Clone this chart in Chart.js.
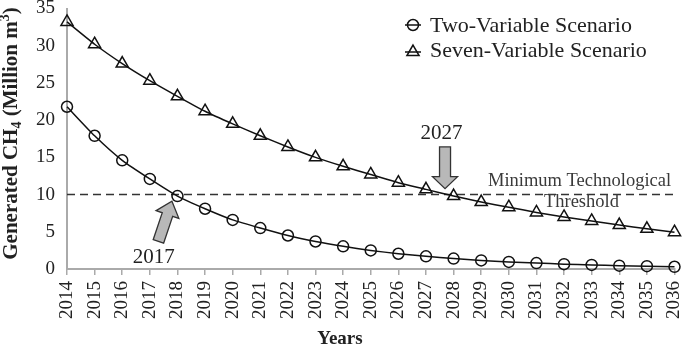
<!DOCTYPE html>
<html>
<head>
<meta charset="utf-8">
<script src="https://cdn.jsdelivr.net/npm/chart.js@4.4.0/dist/chart.umd.min.js"></script>
<style>
html,body{margin:0;padding:0;background:#fff;}
#wrap{width:683px;height:351px;position:relative;}
</style>
</head>
<body>
<div id="wrap"><canvas id="c" width="683" height="351"></canvas></div>
<script>
// ---- data ----
const years = ['2014','2015','2016','2017','2018','2019','2020','2021','2022','2023','2024','2025','2026','2027','2028','2029','2030','2031','2032','2033','2034','2035','2036'];
const twoVariable = [21.8,17.9,14.6,12.1,9.8,8.1,6.6,5.5,4.5,3.7,3.05,2.5,2.05,1.7,1.4,1.15,0.95,0.8,0.65,0.55,0.45,0.38,0.3];
const sevenVariable = [33.2,30.2,27.6,25.3,23.2,21.2,19.5,17.9,16.4,15.0,13.8,12.7,11.6,10.7,9.8,9.0,8.3,7.6,7.0,6.45,5.9,5.4,4.95];
const thresholdValue = 10;
const threshold = years.map(() => thresholdValue);
const yTicks = [0,5,10,15,20,25,30,35];
const seriesNames = ['Two-Variable Scenario','Seven-Variable Scenario'];
const thresholdLabel = ['Minimum Technological','Threshold'];
const crossingLabels = ['2017','2027'];

const SERIF = "'Liberation Serif','Times New Roman',serif";

function drawArrow(ctx, tx, ty, bx, by, shaftW, headW, headL) {
  const dx = tx - bx, dy = ty - by;
  const len = Math.hypot(dx, dy);
  const ux = dx / len, uy = dy / len;
  const px = -uy, py = ux;
  const hx = tx - ux * headL, hy = ty - uy * headL;
  const pts = [
    [bx + px * shaftW / 2, by + py * shaftW / 2],
    [hx + px * shaftW / 2, hy + py * shaftW / 2],
    [hx + px * headW / 2, hy + py * headW / 2],
    [tx, ty],
    [hx - px * headW / 2, hy - py * headW / 2],
    [hx - px * shaftW / 2, hy - py * shaftW / 2],
    [bx - px * shaftW / 2, by - py * shaftW / 2]
  ];
  ctx.beginPath();
  ctx.moveTo(pts[0][0], pts[0][1]);
  for (let i = 1; i < pts.length; i++) ctx.lineTo(pts[i][0], pts[i][1]);
  ctx.closePath();
  ctx.fillStyle = '#b8b8b8';
  ctx.fill();
  ctx.lineWidth = 1.3;
  ctx.strokeStyle = '#333';
  ctx.stroke();
}

const extras = {
  id: 'extras',
  afterDatasetsDraw(chart) {
    const ctx = chart.ctx;
    const xs = chart.scales.x, ys = chart.scales.y;
    ctx.save();
    // arrows
    drawArrow(ctx, xs.getPixelForValue(3.8), ys.getPixelForValue(9.1),
                   xs.getPixelForValue(3.31), ys.getPixelForValue(3.7), 11, 24, 14);
    drawArrow(ctx, xs.getPixelForValue(13.69), ys.getPixelForValue(10.8),
                   xs.getPixelForValue(13.69), ys.getPixelForValue(16.4), 11, 25, 12);
    // crossing labels
    ctx.fillStyle = '#222';
    ctx.font = '21px ' + SERIF;
    ctx.textAlign = 'center';
    ctx.textBaseline = 'middle';
    ctx.fillText(crossingLabels[0], xs.getPixelForValue(3.14), ys.getPixelForValue(1.6));
    ctx.fillText(crossingLabels[1], xs.getPixelForValue(13.56), ys.getPixelForValue(18.2));
    // threshold text
    ctx.fillStyle = '#3a3a3a';
    ctx.font = '18.5px ' + SERIF;
    ctx.fillText(thresholdLabel[0], xs.getPixelForValue(18.56), ys.getPixelForValue(11.75));
    ctx.fillText(thresholdLabel[1], xs.getPixelForValue(18.63), ys.getPixelForValue(8.95));
    // legend
    const lx = 413;
    const rows = [{y: 25, base: 31.5, style: 'circle'}, {y: 52, base: 57, style: 'triangle'}];
    rows.forEach((r, i) => {
      ctx.strokeStyle = '#111';
      ctx.lineWidth = 1.5;
      ctx.beginPath();
      ctx.moveTo(lx - 8, r.y); ctx.lineTo(lx + 8, r.y);
      ctx.stroke();
      ctx.fillStyle = 'rgba(0,0,0,0)';
      ctx.strokeStyle = '#111';
      Chart.helpers.drawPoint(ctx, {pointStyle: r.style, radius: r.style === 'circle' ? 5.5 : 7, borderWidth: 1.5, rotation: 0}, lx, r.y);
      ctx.fillStyle = '#222';
      ctx.font = '22px ' + SERIF;
      ctx.textAlign = 'left';
      ctx.textBaseline = 'alphabetic';
      ctx.fillText(seriesNames[i], 430, r.base);
    });
    // x title
    ctx.fillStyle = '#222';
    ctx.font = 'bold 19px ' + SERIF;
    ctx.textAlign = 'center';
    ctx.textBaseline = 'middle';
    ctx.fillText('Years', 340, 339);
    // y title with sub/superscript
    const parts = [
      {t: 'Generated CH', s: 21, dy: 0},
      {t: '4', s: 14, dy: 4},
      {t: ' (Million m', s: 21, dy: 0},
      {t: '3', s: 14, dy: -8},
      {t: ')', s: 21, dy: 0}
    ];
    let total = 0;
    parts.forEach(p => { ctx.font = 'bold ' + p.s + 'px ' + SERIF; p.w = ctx.measureText(p.t).width; total += p.w; });
    ctx.translate(17, 133.5);
    ctx.rotate(-Math.PI / 2);
    ctx.textAlign = 'left';
    ctx.textBaseline = 'alphabetic';
    let cx = -total / 2;
    parts.forEach(p => {
      ctx.font = 'bold ' + p.s + 'px ' + SERIF;
      ctx.fillText(p.t, cx, p.dy);
      cx += p.w;
    });
    ctx.restore();
  }
};

new Chart(document.getElementById('c'), {
  type: 'line',
  data: {
    labels: years,
    datasets: [
      {
        label: seriesNames[0], data: twoVariable,
        borderColor: '#111', borderWidth: 1.5, backgroundColor: 'rgba(0,0,0,0)',
        pointStyle: 'circle', pointRadius: 5.5, pointBorderWidth: 1.5,
        pointBorderColor: '#111', pointBackgroundColor: 'rgba(0,0,0,0)',
        tension: 0.2, clip: false
      },
      {
        label: seriesNames[1], data: sevenVariable,
        borderColor: '#111', borderWidth: 1.5, backgroundColor: 'rgba(0,0,0,0)',
        pointStyle: 'triangle', pointRadius: 7, pointBorderWidth: 1.5,
        pointBorderColor: '#111', pointBackgroundColor: 'rgba(0,0,0,0)',
        tension: 0.2, clip: false
      },
      {
        label: 'threshold', data: threshold,
        borderColor: '#333', borderWidth: 1.5, borderDash: [8, 5],
        pointRadius: 0, tension: 0, clip: false
      }
    ]
  },
  options: {
    responsive: false,
    animation: false,
    events: [],
    layout: {padding: {left: 0, right: 7, top: 7, bottom: 0}},
    plugins: {legend: {display: false}, tooltip: {enabled: false}},
    scales: {
      x: {
        type: 'category', offset: false,
        grid: {display: true, drawOnChartArea: false, drawTicks: true, tickLength: 6, color: '#aaa', lineWidth: 1.5},
        border: {display: true, color: '#aaa', width: 2},
        ticks: {autoSkip: false, minRotation: 90, maxRotation: 90, padding: 6, color: '#222', font: {family: SERIF, size: 19}},
        afterFit(s) { s.height = 82; s.paddingLeft = 0; s.paddingRight = 0; }
      },
      y: {
        min: 0, max: 35,
        afterBuildTicks(s) { s.ticks = yTicks.map(v => ({value: v})); },
        grid: {display: true, drawOnChartArea: false, drawTicks: false, color: '#aaa'},
        border: {display: true, color: '#aaa', width: 2},
        ticks: {padding: 12, color: '#222', font: {family: SERIF, size: 19}},
        afterFit(s) { s.width = 67; s.paddingTop = 0; s.paddingBottom = 0; }
      }
    }
  },
  plugins: [extras]
});
</script>
</body>
</html>
